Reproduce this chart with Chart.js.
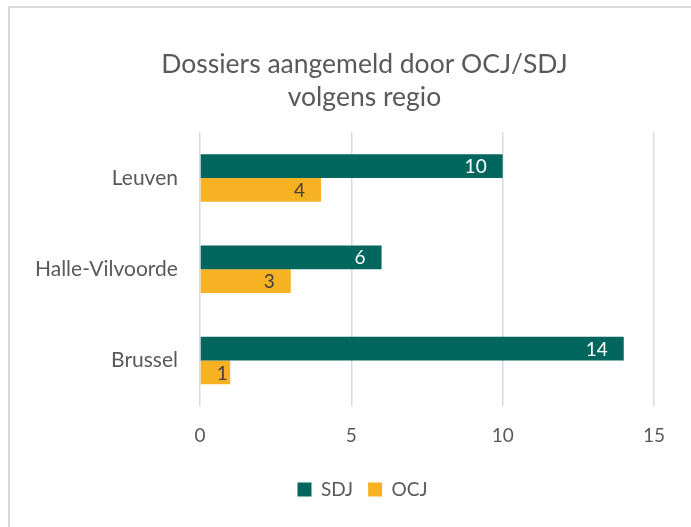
<!DOCTYPE html>
<html lang="nl">
<head>
<meta charset="UTF-8">
<title>Dossiers per regio</title>
<script src="https://cdn.jsdelivr.net/npm/chart.js"></script>
<style>
  html, body { margin: 0; padding: 0; background: #fff; overflow: hidden; }
  .kader { position: absolute; left: 8px; top: 6px; width: 760px; height: 600px;
           border-left: 2px solid #d9d9d9; border-top: 2px solid #d9d9d9; }
  .grafiek { position: absolute; left: 0; top: 0; width: 731px; height: 527px; }
</style>
</head>
<body>
<div class="kader"></div>
<div class="grafiek"><canvas id="regioChart"></canvas></div>
<script>
// data
const regios = ['Leuven', 'Halle-Vilvoorde', 'Brussel'];
const sdj = [10, 6, 14];
const ocj = [4, 3, 1];
const xTicks = [0, 5, 10, 15];

const grijs = '#595959';
const fam = 'Lato, "Open Sans", sans-serif';

// labels binnen het einde van de balken
const waardeLabels = {
  id: 'waardeLabels',
  afterDatasetsDraw(chart) {
    const ctx = chart.ctx;
    ctx.save();
    ctx.font = '19px ' + fam;
    ctx.textAlign = 'right';
    ctx.textBaseline = 'middle';
    chart.data.datasets.forEach((ds, i) => {
      chart.getDatasetMeta(i).data.forEach((bar, j) => {
        ctx.fillStyle = ds.labelKleur;
        const x = Math.max(bar.x - 16, bar.base + 27);
        ctx.fillText(ds.data[j], x, bar.y + 1);
      });
    });
    ctx.restore();
  }
};

// titel en legende centreren over de hele grafiek (zoals in Excel)
const centreren = {
  id: 'centreren',
  afterLayout(chart) {
    chart.titleBlock.left += 62;
    chart.legend.left += 58;
  }
};

new Chart(document.getElementById('regioChart'), {
  type: 'bar',
  data: {
    labels: regios,
    datasets: [
      { label: 'SDJ', data: sdj, backgroundColor: '#00665E', labelKleur: '#ffffff',
        categoryPercentage: 0.52, barPercentage: 1 },
      { label: 'OCJ', data: ocj, backgroundColor: '#F6B223', labelKleur: '#404040',
        categoryPercentage: 0.52, barPercentage: 1 }
    ]
  },
  options: {
    indexAxis: 'y',
    responsive: true,
    maintainAspectRatio: false,
    animation: false,
    layout: { padding: { left: 13, right: 77, top: 26, bottom: 18 } },
    scales: {
      x: {
        min: 0, max: 15,
        afterBuildTicks: (axis) => { axis.ticks = xTicks.map(v => ({ value: v })); },
        grid: { color: '#d9d9d9', lineWidth: 1.5, drawTicks: false },
        border: { display: false },
        ticks: { color: grijs, font: { family: fam, size: 19 }, padding: 18 }
      },
      y: {
        grid: { display: false, drawTicks: false },
        border: { display: false },
        ticks: { color: grijs, font: { family: fam, size: 21 }, padding: 22 }
      }
    },
    plugins: {
      title: {
        display: true,
        text: ['Dossiers aangemeld door OCJ/SDJ', 'volgens regio'],
        color: grijs,
        font: { family: fam, size: 26.5, weight: 'normal', lineHeight: 1.25 },
        padding: { top: 22, bottom: 18 }
      },
      legend: {
        position: 'bottom',
        labels: { color: grijs, font: { family: fam, size: 19 },
                  boxWidth: 14, boxHeight: 14, padding: 15 }
      },
      tooltip: { enabled: false }
    }
  },
  plugins: [waardeLabels, centreren]
});
</script>
</body>
</html>
